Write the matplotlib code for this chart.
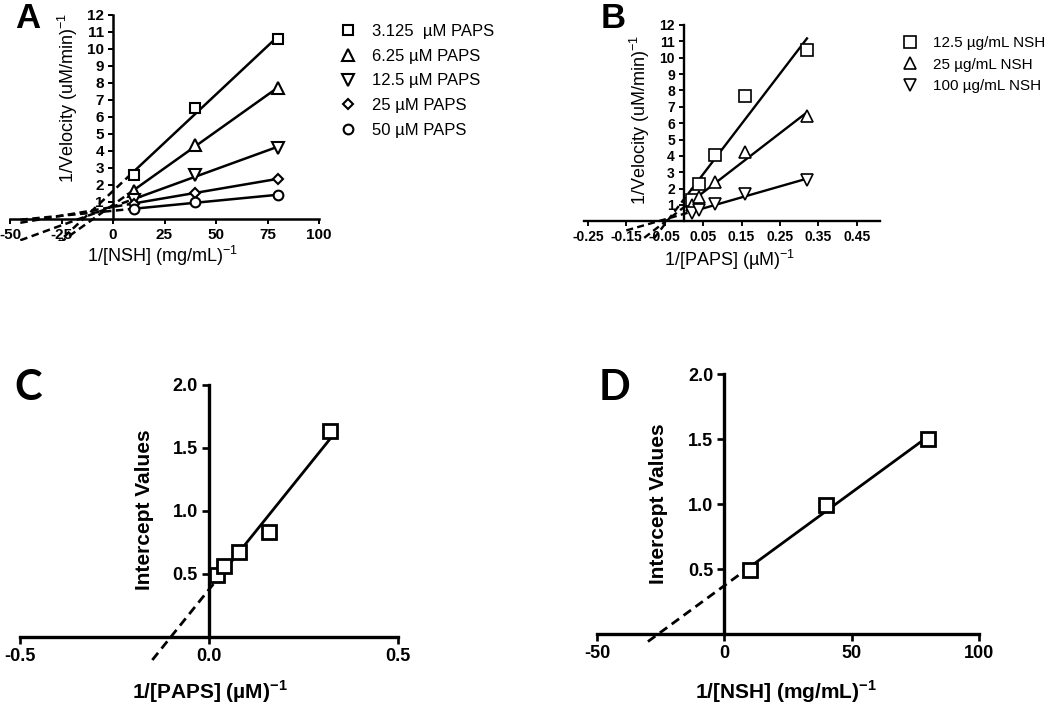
import numpy as np
import matplotlib
matplotlib.use('Agg')
import matplotlib.pyplot as plt
from matplotlib.ticker import FormatStrFormatter

plt.rcParams['font.family'] = ['Liberation Sans', 'DejaVu Sans']
plt.rcParams['mathtext.fontset'] = 'custom'
plt.rcParams['mathtext.rm'] = 'Liberation Sans'
plt.rcParams['mathtext.bf'] = 'Liberation Sans:bold'
plt.rcParams['axes.unicode_minus'] = False

# panel A : 1/v vs 1/[NSH] at several PAPS
nsh_inv = [10, 40, 80]
a_labels = ['3.125  µM PAPS', '6.25 µM PAPS', '12.5 µM PAPS', '25 µM PAPS', '50 µM PAPS']
a_vals = [[2.6, 6.5, 10.6],
          [1.65, 4.35, 7.7],
          [1.1, 2.6, 4.2],
          [0.9, 1.55, 2.35],
          [0.57, 1.0, 1.4]]
a_markers = ['s', '^', 'v', 'D', 'o']
a_msize = [7.5, 8, 8, 5.5, 7]

# panel B : 1/v vs 1/[PAPS] at several NSH
paps_inv = [0.02, 0.04, 0.08, 0.16, 0.32]
b_labels = ['12.5 µg/mL NSH', '25 µg/mL NSH', '100 µg/mL NSH']
b_vals = [[1.3, 2.27, 4.08, 7.65, 10.5],
          [1.0, 1.49, 2.4, 4.24, 6.43],
          [0.51, 0.71, 1.04, 1.65, 2.55]]
b_markers = ['s', '^', 'v']

# panel C / D : secondary plots of intercepts
c_vals = [0.49, 0.565, 0.675, 0.83, 1.635]
d_vals = [0.49, 0.99, 1.5]

W, H = 1050, 704


def box(l, t, r, b):
    return [l / W, 1 - b / H, (r - l) / W, (b - t) / H]


def setup(ax, xlim, ylim, xticks, yticks, lw, tlen, fs, xfmt, yfmt):
    ax.set_xlim(xlim)
    ax.set_ylim(ylim)
    ax.patch.set_visible(False)
    for s in ['top', 'right']:
        ax.spines[s].set_visible(False)
    ax.spines['left'].set_position(('data', 0))
    ax.spines['bottom'].set_position(('data', 0))
    ax.spines['left'].set_bounds(0, ylim[1])
    ax.spines['bottom'].set_bounds(xlim[0], xlim[1])
    ax.spines['left'].set_linewidth(lw)
    ax.spines['bottom'].set_linewidth(lw)
    ax.set_xticks(xticks)
    ax.set_yticks(yticks)
    ax.xaxis.set_major_formatter(FormatStrFormatter(xfmt))
    ax.yaxis.set_major_formatter(FormatStrFormatter(yfmt))
    ax.tick_params(direction='out', length=tlen, width=lw * 0.8, labelsize=fs, pad=3)
    for lab in ax.get_xticklabels() + ax.get_yticklabels():
        lab.set_fontweight('bold')


def fit_line(ax, x, y, xext, lw, dash):
    k, b = np.polyfit(x, y, 1)
    xs = np.array([x[0], x[-1]])
    ax.plot(xs, k * xs + b, color='black', lw=lw, zorder=2)
    xd = np.array([xext, x[0]])
    ax.plot(xd, k * xd + b, color='black', lw=lw, ls=dash, zorder=2)


fig = plt.figure(figsize=(10.5, 7.04), dpi=100)

# ---- A
axA = fig.add_axes(box(10, 15, 319, 241))
setup(axA, (-50, 100), (-1.3, 12), [-50, -25, 0, 25, 50, 75, 100], range(1, 13),
      1.8, 3.5, 11, '%d', '%d')
ha = []
for vals, m, ms, lab in zip(a_vals, a_markers, a_msize, a_labels):
    fit_line(axA, nsh_inv, vals, -45, 1.8, (0, (3, 1.8)))
    h, = axA.plot(nsh_inv, vals, ls='none', marker=m, ms=ms, mfc='white', mec='black',
                  mew=1.5, zorder=3, label=lab)
    ha.append(h)
fig.legend(handles=ha, loc='upper left', bbox_to_anchor=(340 / W, 1 - 24 / H), frameon=False,
           fontsize=12, handlelength=1.0, handletextpad=0.95, labelspacing=0.58,
           borderpad=0, borderaxespad=0)
fig.text(162 / W, 1 - 256 / H, '1/[NSH] (mg/mL)$^{-1}$', fontsize=13, ha='center', va='center')
fig.text(68 / W, 1 - 98 / H, '1/Velocity (uM/min)$^{-1}$', fontsize=13, ha='center',
         va='center', rotation=90)
fig.text(28 / W, 1 - 18 / H, 'A', fontsize=25, fontweight='bold', ha='center', va='center')

# ---- B
axB = fig.add_axes(box(584, 25, 880, 241))
setup(axB, (-0.26, 0.51), (-1.2, 12), np.arange(-0.25, 0.46, 0.1), range(1, 13),
      1.7, 3.5, 10, '%.2f', '%d')
hb = []
for vals, m, lab in zip(b_vals, b_markers, b_labels):
    fit_line(axB, paps_inv, vals, -0.15, 1.7, (0, (3, 1.8)))
    h, = axB.plot(paps_inv, vals, ls='none', marker=m, ms=8, mfc='white', mec='black',
                  mew=1.2, zorder=3, label=lab)
    hb.append(h)
fig.legend(handles=hb, loc='upper left', bbox_to_anchor=(902 / W, 1 - 36 / H), frameon=False,
           fontsize=11, handlelength=1.0, handletextpad=1.0, labelspacing=0.5,
           borderpad=0, borderaxespad=0)
fig.text(730 / W, 1 - 260 / H, '1/[PAPS] (µM)$^{-1}$', fontsize=13, ha='center', va='center')
fig.text(640 / W, 1 - 120 / H, '1/Velocity (uM/min)$^{-1}$', fontsize=13, ha='center',
         va='center', rotation=90)
fig.text(613 / W, 1 - 18 / H, 'B', fontsize=25, fontweight='bold', ha='center', va='center')

# ---- C
axC = fig.add_axes(box(20, 385, 398, 662))
setup(axC, (-0.5, 0.5), (-0.2, 2.0), [-0.5, 0.0, 0.5], [0.5, 1.0, 1.5, 2.0],
      2.4, 5, 13, '%.1f', '%.1f')
fit_line(axC, paps_inv, c_vals, -0.15, 2.0, (0, (3.3, 2)))
axC.plot(paps_inv, c_vals, ls='none', marker='s', ms=10.5, mfc='white', mec='black',
         mew=2.0, zorder=3)
fig.text(210 / W, 1 - 692 / H, '1/[PAPS] (µM)$^{\\mathbf{-1}}$', fontsize=15, fontweight='bold',
         ha='center', va='center')
fig.text(145 / W, 1 - 510 / H, 'Intercept Values', fontsize=15, fontweight='bold',
         ha='center', va='center', rotation=90)
fig.text(28 / W, 1 - 388 / H, 'C', fontsize=30, fontweight='bold', family='Lato',
         ha='center', va='center')

# ---- D
axD = fig.add_axes(box(597, 374, 979, 647))
setup(axD, (-50, 100), (-0.1, 2.0), [-50, 0, 50, 100], [0.5, 1.0, 1.5, 2.0],
      2.4, 5, 13, '%d', '%.1f')
fit_line(axD, nsh_inv, d_vals, -30, 2.0, (0, (3.3, 2)))
axD.plot(nsh_inv, d_vals, ls='none', marker='s', ms=10.5, mfc='white', mec='black',
         mew=2.0, zorder=3)
fig.text(786 / W, 1 - 692 / H, '1/[NSH] (mg/mL)$^{\\mathbf{-1}}$', fontsize=15, fontweight='bold',
         ha='center', va='center')
fig.text(659 / W, 1 - 504 / H, 'Intercept Values', fontsize=15, fontweight='bold',
         ha='center', va='center', rotation=90)
fig.text(614 / W, 1 - 388 / H, 'D', fontsize=30, fontweight='bold', family='Lato',
         ha='center', va='center')

fig.savefig('out.png', dpi=100)
